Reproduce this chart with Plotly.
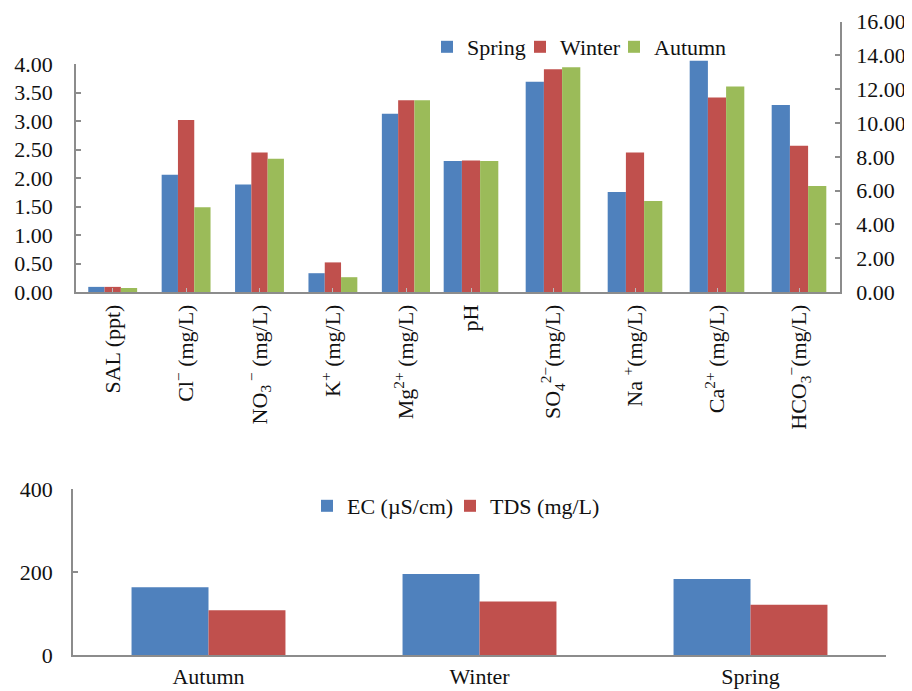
import plotly.graph_objects as go

# figure sized to fit inside the 912x691 window with the page's 8px body margin
W, H = 904, 683
OFF = 8

# ---- data (top chart, left axis group) ----
cats_left = ["SAL (ppt)", "Cl<sup>−</sup> (mg/L)", "NO<sub>3</sub><sup> −</sup> (mg/L)",
             "K<sup>+</sup> (mg/L)", "Mg<sup>2+</sup> (mg/L)"]
spring_left = [0.09, 2.06, 1.89, 0.33, 3.13]
winter_left = [0.09, 3.02, 2.45, 0.52, 3.37]
autumn_left = [0.07, 1.49, 2.34, 0.26, 3.37]

# ---- data (top chart, right axis group) ----
cats_right = ["pH", "SO<sub>4</sub><sup>2−</sup>(mg/L)", "Na <sup>+</sup>(mg/L)",
              "Ca<sup>2+</sup> (mg/L)", "HCO<sub>3</sub><sup>−</sup>(mg/L)"]
spring_right = [7.75, 12.45, 5.92, 13.69, 11.07]
winter_right = [7.78, 13.18, 8.26, 11.52, 8.66]
autumn_right = [7.75, 13.31, 5.38, 12.17, 6.27]

left_ticks = [0, 0.5, 1.0, 1.5, 2.0, 2.5, 3.0, 3.5, 4.0]
right_ticks = [0, 2, 4, 6, 8, 10, 12, 14, 16]

# ---- data (bottom chart) ----
seasons = ["Autumn", "Winter", "Spring"]
ec_vals = [163, 195, 183]
tds_vals = [108, 129, 121]
bottom_ticks = [0, 200, 400]

BLUE, RED, GREEN = "#4F81BD", "#C0504D", "#9BBB59"
AXC = "#8C8C8C"
FONT = "Liberation Serif"
FS = 22
TXT = "#111111"


def px_x(p):
    return (p - OFF) / W


def px_y(p):
    return 1 - (p - OFF) / H


fig = go.Figure()

series = [("Spring", BLUE, spring_left, spring_right, "legend"),
          ("Winter", RED, winter_left, winter_right, "legend3"),
          ("Autumn", GREEN, autumn_left, autumn_right, "legend4")]
bw = 0.222
offs = [-1.5 * bw, -0.5 * bw, 0.5 * bw]
for (name, col, lv, rv, lg), off in zip(series, offs):
    fig.add_trace(go.Bar(x=cats_left, y=lv, name=name, marker_color=col,
                         width=bw, offset=off, xaxis="x", yaxis="y",
                         legendgroup=name, showlegend=True, legend=lg))
    fig.add_trace(go.Bar(x=cats_right, y=rv, name=name, marker_color=col,
                         width=bw, offset=off, xaxis="x2", yaxis="y2",
                         legendgroup=name, showlegend=False, legend=lg))

bw2 = 0.284
fig.add_trace(go.Bar(x=seasons, y=ec_vals, name="EC (µS/cm)", marker_color=BLUE,
                     width=bw2, offset=-bw2, xaxis="x3", yaxis="y3", legend="legend2"))
fig.add_trace(go.Bar(x=seasons, y=tds_vals, name="TDS (mg/L)", marker_color=RED,
                     width=bw2, offset=0, xaxis="x3", yaxis="y3", legend="legend5"))

tickfont = dict(family=FONT, size=FS, color=TXT)

common_x = dict(showline=True, linecolor=AXC, linewidth=1.5, showgrid=False,
                zeroline=False, tickfont=tickfont, fixedrange=True, automargin=False)
common_y = dict(showline=True, linecolor=AXC, linewidth=1.5, showgrid=False,
                zeroline=False, tickfont=tickfont, ticks="inside", ticklen=5,
                tickcolor=AXC, tickwidth=1.5, fixedrange=True, automargin=False)


def leg(text_x, text_y):
    # a legend entry's text starts 40px right of the legend's left edge
    return dict(orientation="h", x=px_x(text_x - 40), y=px_y(text_y), xanchor="left",
                yanchor="middle", font=dict(family=FONT, size=FS, color=TXT),
                bgcolor="rgba(0,0,0,0)", itemclick=False, itemdoubleclick=False)


fig.update_layout(
    template="none",
    width=W, height=H,
    margin=dict(l=0, r=0, t=0, b=0, pad=0, autoexpand=False),
    paper_bgcolor="white", plot_bgcolor="white",
    barmode="overlay",
    font=dict(family=FONT, size=FS, color=TXT),
    xaxis=dict(domain=[px_x(76), px_x(443)], anchor="y", range=[-0.5, 4.5],
               categoryorder="array", categoryarray=cats_left,
               tickangle=-90, ticks="inside", ticklen=4, tickcolor="#BBBBBB",
               ticklabelstandoff=2, **common_x),
    xaxis2=dict(domain=[px_x(430), px_x(840)], anchor="y2", range=[-0.5, 4.5],
                categoryorder="array", categoryarray=cats_right,
                tickangle=-90, ticks="inside", ticklen=4, tickcolor="#BBBBBB",
                ticklabelstandoff=2, **common_x),
    yaxis=dict(domain=[px_y(292), px_y(64.3)], anchor="x", range=[0, 4],
               tickvals=left_ticks, tickformat=".2f", ticklabelstandoff=17, **common_y),
    yaxis2=dict(domain=[px_y(292), px_y(21.7)], anchor="x2", side="right",
                range=[0, 16], tickvals=right_ticks, tickformat=".2f",
                ticklabelstandoff=10, **common_y),
    xaxis3=dict(domain=[px_x(73), px_x(886)], anchor="y3", range=[-0.5, 2.5],
                categoryorder="array", categoryarray=seasons, ticks="",
                ticklabelstandoff=1, **common_x),
    yaxis3=dict(domain=[px_y(655), px_y(489)], anchor="x3", range=[0, 400],
                tickvals=bottom_ticks, ticklabelstandoff=14, **common_y),
    legend=leg(467, 47),
    legend3=leg(560, 47),
    legend4=leg(654, 47),
    legend2=leg(347, 506),
    legend5=leg(490, 506),
    showlegend=True,
)

fig.write_html("out.html")
